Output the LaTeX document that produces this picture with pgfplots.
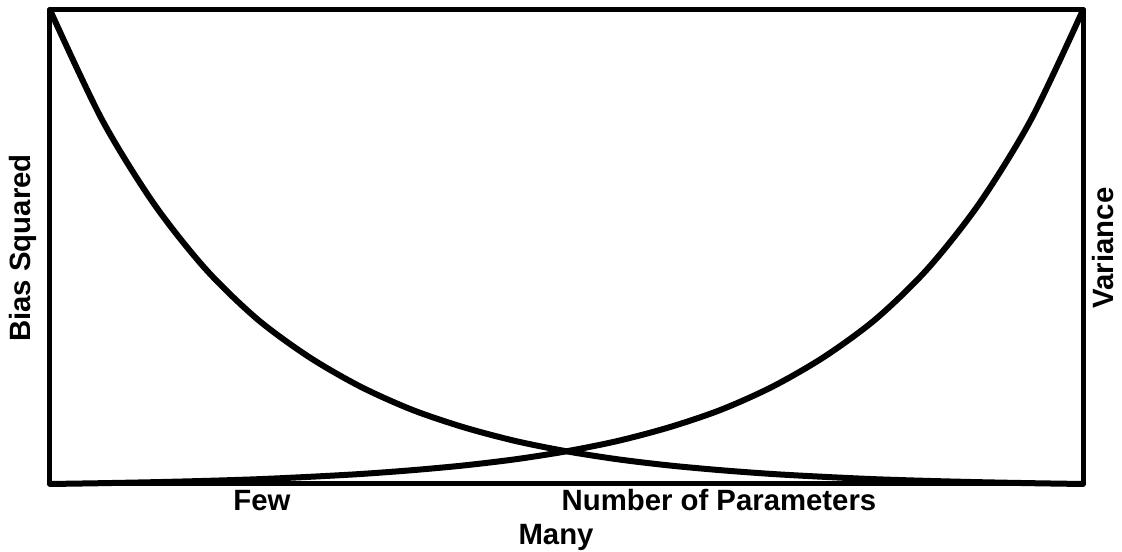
\documentclass[border=0pt]{standalone}
\usepackage{pgfplots}
\pgfplotsset{compat=1.18}
\usepackage{fontspec}
\setmainfont{Liberation Sans}
\begin{document}
\begin{tikzpicture}
\useasboundingbox (-37.5pt,-51pt) rectangle (804pt,363pt);
\begin{axis}[
  at={(0,0)}, anchor=south west,
  width=774.75pt, height=355.5pt, scale only axis,
  xmin=0, xmax=1, ymin=0, ymax=1,
  ticks=none,
  axis line style={line width=3.75pt, line join=round},
  clip=false,
]
\addplot[line width=4.5pt, black, smooth, line cap=round] coordinates {
(0,1) (0.05,0.770) (0.1,0.593) (0.15,0.455) (0.2,0.349) (0.25,0.269)
(0.3,0.206) (0.35,0.157) (0.4,0.120) (0.45,0.091) (0.5,0.069)
(0.55,0.052) (0.6,0.039) (0.65,0.029) (0.7,0.021) (0.75,0.015)
(0.8,0.010) (0.85,0.0065) (0.9,0.0038) (0.95,0.0017) (1,0)
};
\addplot[line width=4.5pt, black, smooth, line cap=round] coordinates {
(0,0) (0.05,0.0017) (0.1,0.0038) (0.15,0.0065) (0.2,0.010) (0.25,0.015)
(0.3,0.021) (0.35,0.029) (0.4,0.039) (0.45,0.052) (0.5,0.069)
(0.55,0.091) (0.6,0.120) (0.65,0.157) (0.7,0.206) (0.75,0.269)
(0.8,0.349) (0.85,0.455) (0.9,0.593) (0.95,0.770) (1,1)
};
\end{axis}
\begin{scope}[every node/.style={font=\fontsize{22}{26}\selectfont\bfseries, inner sep=0pt}]
\node[anchor=base] at (159pt,-20pt) {Few};
\node[anchor=base] at (501.75pt,-20pt) {Number of Parameters};
\node[anchor=base] at (379.5pt,-45.75pt) {Many};
\node[rotate=90] at (-20.25pt,177pt) {Bias Squared};
\node[rotate=90] at (789.75pt,177pt) {Variance};
\end{scope}
\end{tikzpicture}
\end{document}
